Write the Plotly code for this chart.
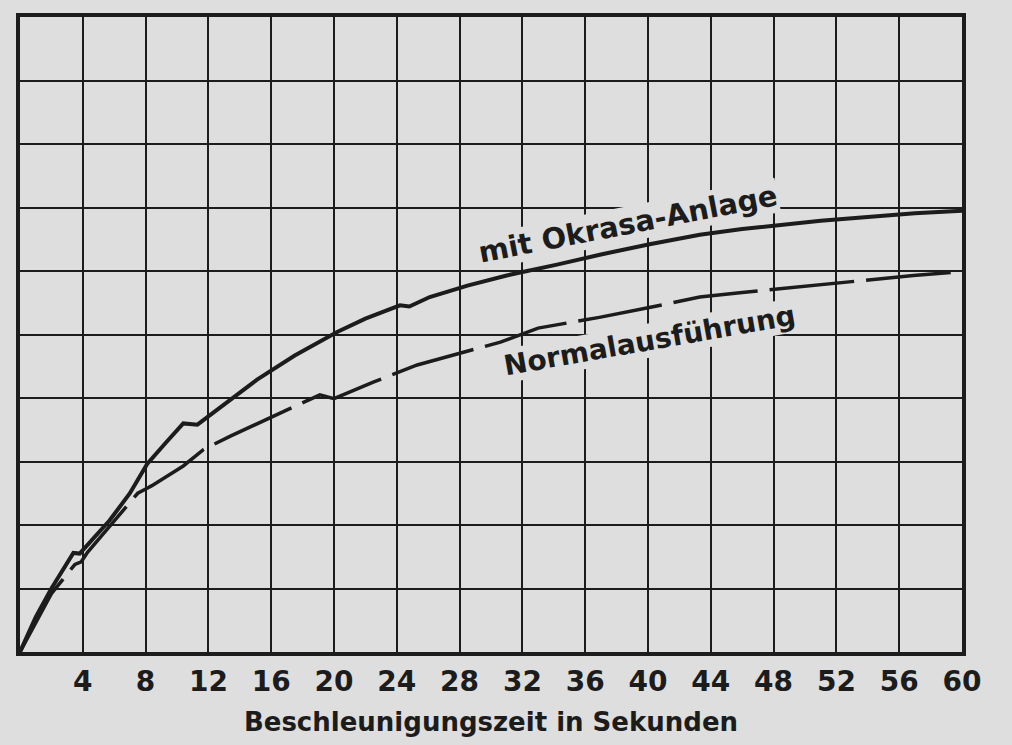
import plotly.graph_objects as go

# Beschleunigungszeit (s) und Geschwindigkeit (Rastereinheiten)
t_okrasa = [0, 1, 2, 3, 3.4, 3.8, 4.5, 5.7, 7, 8.1, 9.3, 10.4, 11.3, 12.5, 14, 15.1,
            17.5, 20.2, 22, 24.2, 24.8, 26.1, 28.5, 31, 34.2, 37, 40.1, 43.3, 46,
            48.4, 51, 54, 57, 60]
v_okrasa = [0, 0.55, 1.0, 1.4, 1.56, 1.55, 1.75, 2.07, 2.5, 2.96, 3.3, 3.60, 3.58,
            3.8, 4.07, 4.29, 4.67, 5.04, 5.25, 5.46, 5.44, 5.59, 5.77, 5.93, 6.10,
            6.26, 6.42, 6.57, 6.66, 6.73, 6.79, 6.85, 6.91, 6.95]

t_normal = [0, 2, 3.5, 3.9, 4.3, 6, 7.5, 8.1, 8.4, 10.4, 11.7, 13.4, 15.0, 17, 19.1,
            20, 22.5, 25.3, 28, 30.6, 33, 36.9, 40, 43.3, 46, 48, 51.1, 54, 56.9, 60]
v_normal = [0, 0.92, 1.38, 1.42, 1.57, 2.06, 2.5, 2.58, 2.62, 2.93, 3.19, 3.40, 3.58,
            3.82, 4.05, 3.99, 4.25, 4.52, 4.70, 4.88, 5.10, 5.27, 5.42, 5.59, 5.66,
            5.71, 5.79, 5.86, 5.93, 5.99]

x_ticks = list(range(4, 61, 4))
label_okrasa = "mit Okrasa-Anlage"
label_normal = "Normalausführung"
x_title = "Beschleunigungszeit in Sekunden"

paper = "#dedede"
ink = "#1c1c1c"
font_family = "DejaVu Sans"

fig = go.Figure()
fig.add_trace(go.Scatter(x=t_normal, y=v_normal, mode="lines",
                         line=dict(color=ink, width=3.5, dash="85px,12px"),
                         hoverinfo="skip", showlegend=False))
fig.add_trace(go.Scatter(x=t_okrasa, y=v_okrasa, mode="lines",
                         line=dict(color=ink, width=4),
                         hoverinfo="skip", showlegend=False))

fig.add_annotation(x=38.7, y=6.74, text=label_okrasa, showarrow=False,
                   textangle=-11,
                   font=dict(family=font_family, size=29, color=ink, weight="bold"),
                   bgcolor=paper, borderpad=0)
fig.add_annotation(x=40.1, y=4.9, text=label_normal, showarrow=False,
                   textangle=-10,
                   font=dict(family=font_family, size=28, color=ink, weight="bold"),
                   bgcolor=paper, borderpad=0)

fig.update_layout(
    width=1012, height=745,
    margin=dict(l=12, r=58, t=5, b=101),
    paper_bgcolor=paper, plot_bgcolor=paper,
    font=dict(family=font_family, color=ink),
)
fig.update_xaxes(range=[0, 60], tickvals=x_ticks, ticktext=[str(v) for v in x_ticks],
                 showgrid=True, gridcolor=ink, gridwidth=2,
                 showline=True, linecolor=ink, linewidth=3.5, mirror=True,
                 zeroline=False, ticks="", ticklabelstandoff=2,
                 tickfont=dict(size=28, family=font_family, color=ink, weight="bold"),
                 title=dict(text=x_title,
                            font=dict(size=26, family=font_family, color=ink, weight="bold"),
                            standoff=16))
fig.update_yaxes(range=[0, 10], dtick=1, showticklabels=False,
                 showgrid=True, gridcolor=ink, gridwidth=2,
                 showline=True, linecolor=ink, linewidth=3.5, mirror=True,
                 zeroline=False, ticks="")

fig.write_html("out.html",
               post_script="document.body.style.background='%s';"
                           "document.documentElement.style.background='%s';" % (paper, paper))
